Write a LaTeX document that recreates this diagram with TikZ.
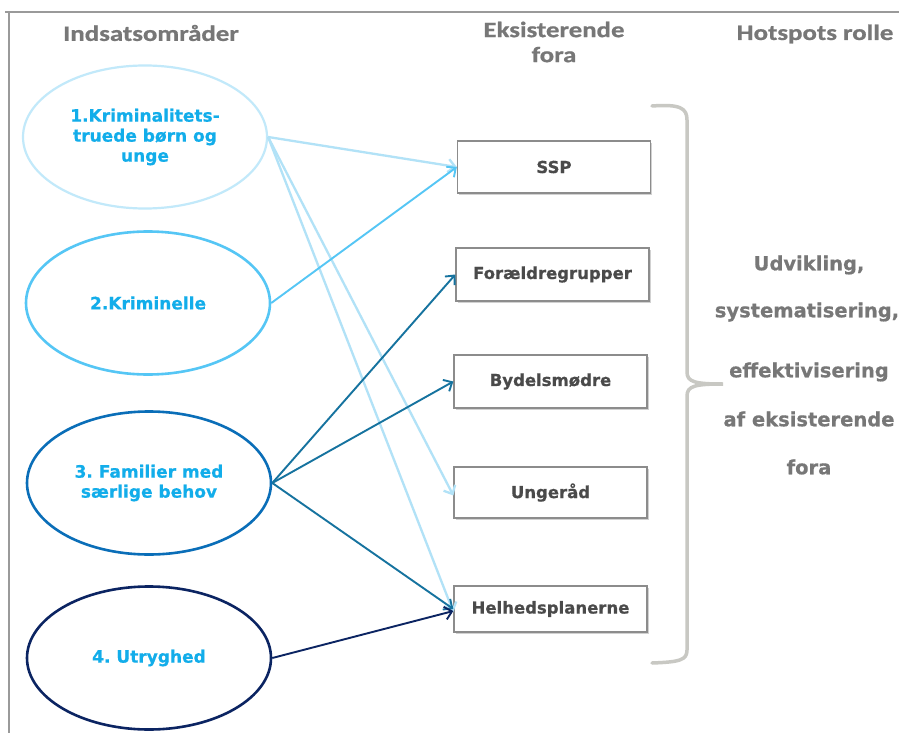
\documentclass[tikz,border=0pt]{standalone}
\usepackage{fontspec}
\setmainfont{DejaVu Sans}[BoldFeatures={FakeBold=0.6}]
\newfontfamily\hdfont[FakeStretch=1.22, BoldFeatures={FakeBold=0.8}]{Carlito}
\usetikzlibrary{shapes.geometric,arrows.meta,shadows}
\frenchspacing
\definecolor{framegray}{HTML}{9A9A9A}
\definecolor{hdgray}{HTML}{777777}
\definecolor{boxtext}{HTML}{4A4A4A}
\definecolor{boxline}{HTML}{8C8C8C}
\definecolor{bracegray}{HTML}{C8C8C3}
\definecolor{elltext}{HTML}{12ADEA}
\definecolor{cone}{HTML}{C2E9FA}
\definecolor{ctwo}{HTML}{55C6F5}
\definecolor{cthree}{HTML}{0A6EB8}
\definecolor{cfour}{HTML}{0B2462}
\definecolor{aone}{HTML}{B2E2F7}
\definecolor{athree}{HTML}{16739F}
\tikzset{
  header/.style={text=hdgray, font=\hdfont\bfseries\fontsize{22}{25}\selectfont, align=center, inner sep=0pt},
  area/.style={ellipse, minimum width=244pt, minimum height=143pt, inner sep=0pt,
    text=elltext, font=\bfseries\fontsize{17}{20}\selectfont, align=center},
  forum/.style={draw=boxline, line width=1.3pt, fill=white, minimum width=193pt, minimum height=52pt,
    inner sep=0pt, text=boxtext, font=\bfseries\fontsize{16.5}{19}\selectfont,
    drop shadow={shadow xshift=1.5pt, shadow yshift=-1.5pt, opacity=0.18, fill=black}},
  role/.style={text=hdgray, font=\bfseries\fontsize{19.5}{22}\selectfont, inner sep=0pt},
  link/.style={-{Straight Barb[length=7pt,width=13pt]}, line width=1.9pt},
}
\begin{document}
\begin{tikzpicture}[x=1pt, y=-1pt]
\useasboundingbox (0,0) rectangle (899,733);
\fill[white] (0,0) rectangle (899,733);
% frame
\draw[framegray, line width=1.3pt] (5,12) -- (899,12);
\draw[framegray, line width=1.3pt] (9,12) -- (9,733);
% headers
\node[header] (h1) at (151,33) {Indsatsområder};
\node[header] (h2) at (554,42) {Eksisterende\\fora};
\node[header] (h3) at (815,34) {Hotspots rolle};
% ellipses
\node[area, draw=cone, line width=2.2pt] (e1) at (145,137) {1.Kriminalitets-\\truede børn og\\unge};
\node[area, draw=ctwo, line width=2.6pt] (e2) at (148,303) {2.Kriminelle};
\node[area, draw=cthree, line width=2.6pt] (e3) at (149,483) {3. Familier med\\særlige behov};
\node[area, draw=cfour, line width=2.6pt] (e4) at (149,658) {4. Utryghed};
% boxes
\node[forum] (ssp) at (554,167) {SSP};
\node[forum, minimum height=53pt] (fg) at (552.5,274.5) {Forældregrupper};
\node[forum, minimum height=53pt] (bm) at (550.5,381.5) {Bydelsmødre};
\node[forum, minimum height=51pt] (ur) at (550.5,492.5) {Ungeråd};
\node[forum, minimum height=46pt] (hp) at (550.5,609) {Helhedsplanerne};
% brace
\draw[bracegray, line width=3.5pt, line cap=round]
  (652,106) .. controls (680,104) and (687,108) .. (687,120)
  -- (687,372) .. controls (687,382) and (695,384) .. (723,384)
  .. controls (695,384) and (687,386) .. (687,396)
  -- (687,650) .. controls (687,660) and (680,662) .. (652,663);
% role text
\node[role] (r1) at (809,265) {Udvikling,};
\node[role] (r2) at (807,312) {systematisering,};
\node[role] (r3) at (809,372) {effektivisering};
\node[role] (r4) at (809,419) {af eksisterende};
\node[role] (r5) at (809,467) {fora};
% connectors
\draw[link, aone, line width=2.3pt] (e1.east) -- (ssp.west);
\draw[link, aone, line width=2.3pt] (e1.east) -- ([yshift=-3pt]ur.west);
\draw[link, aone, line width=2.3pt] (e1.east) -- ([yshift=-3pt]hp.west);
\draw[link, ctwo] (e2.east) -- (ssp.west);
\draw[link, athree] (e3.east) -- (fg.west);
\draw[link, athree] (e3.east) -- (bm.west);
\draw[link, athree] (e3.east) -- (hp.west);
\draw[link, cfour] (e4.east) -- ([yshift=-2pt]hp.west);
\end{tikzpicture}
\end{document}
